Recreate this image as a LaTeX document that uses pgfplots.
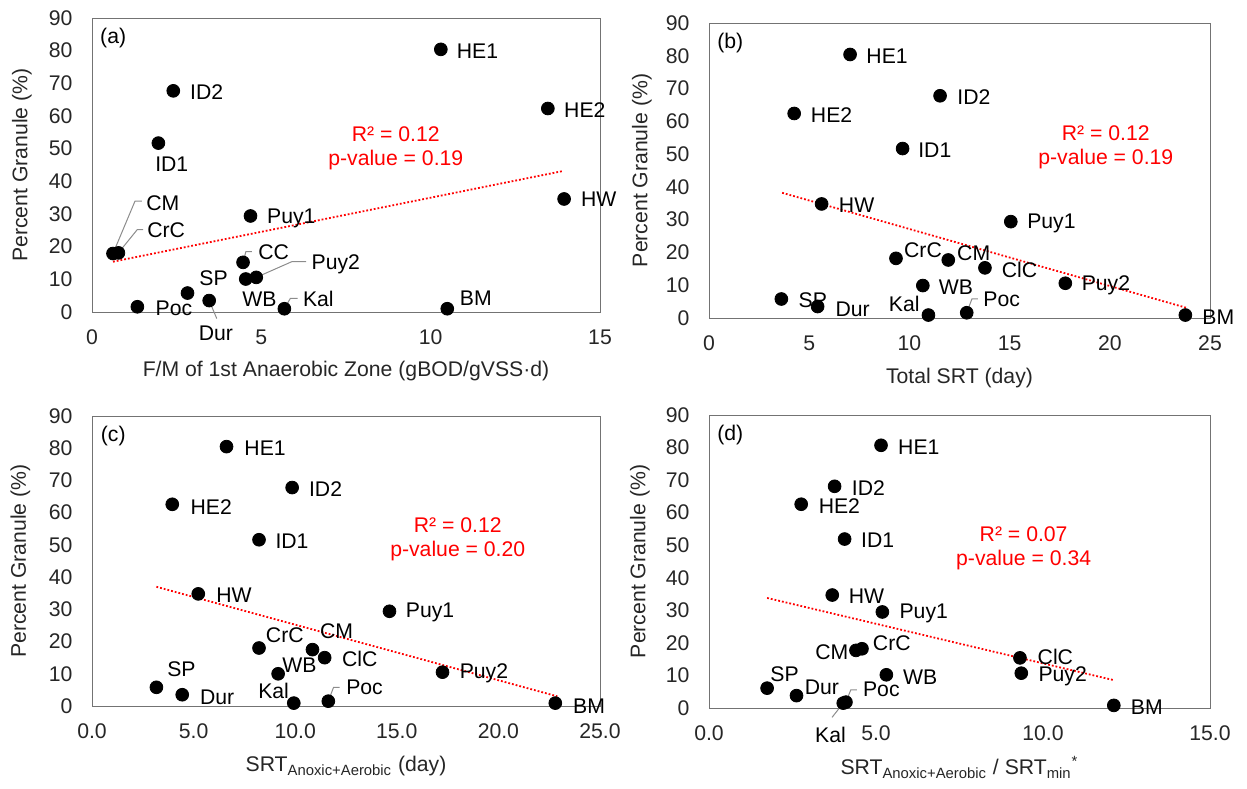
\documentclass[border=0pt]{standalone}
\usepackage{fontspec}
\setmainfont{Liberation Sans}
\usepackage{pgfplots}
\usepackage{pgfplotstable}
\pgfplotsset{compat=1.18}

\newcommand\fsz{\fontsize{10.6}{12.6}\selectfont}

% x y label dx dy (label offset in pt)
\pgfplotstableread{
x y lab dx dy
10.30 80.4 HE1 18.3 -1
2.40 67.7 ID2 16.7 -0.5
13.46 62.3 HE2 18.5 -0.7
1.96 51.7 ID1 6.7 -10.5
13.94 34.6 HW 17.3 -0.3
4.68 29.4 Puy1 20.4 -1.2
0.62 17.9 CM 24.9 25.3
0.78 18.1 CrC 23.9 11.3
4.46 15.2 CC 15.3 5.3
4.54 10.1 WB 6.8 -10
4.85 10.6 Puy2 39.8 6.6
2.82 5.8 SP 13 7.2
3.46 3.5 Dur 3.4 -16.4
1.34 1.6 Poc 18.3 -1
5.68 1.0 Kal 17 5
10.49 1.0 BM 14.3 5.4
}\tabA

\pgfplotstableread{
x y lab dx dy
7.04 80.4 HE1 18.5 -0.7
11.53 67.8 ID2 16.9 -0.7
4.25 62.4 HE2 18.7 -0.7
9.66 51.7 ID1 16.1 -0.8
5.62 34.8 HW 17.5 -0.7
15.06 29.4 Puy1 20.3 -0.7
9.33 18.2 CrC 13.5 4.3
11.94 17.7 CM 12.7 3.6
13.77 15.3 ClC 17.3 -0.8
17.78 10.6 Puy2 20.3 -1.2
10.67 9.9 WB 16.5 -0.8
3.61 5.8 SP 15.7 -0.8
5.42 3.5 Dur 17.5 -1.2
10.95 0.9 Kal -12.1 5.8
12.86 1.6 Poc 17.5 6.9
23.77 0.9 BM 16.5 -1.3
}\tabB

\pgfplotstableread{
x y lab dx dy
6.62 80.5 HE1 19.3 -0.7
9.85 67.8 ID2 16.7 -0.7
3.95 62.6 HE2 19.5 -1.3
8.22 51.6 ID1 16.5 -0.7
5.23 34.8 HW 17.9 -0.8
14.64 29.4 Puy1 20.3 -0.8
8.22 18.0 CrC 12.9 6.5
10.85 17.5 CM 12.1 9
11.45 15.0 ClC 17.5 -0.8
17.25 10.5 Puy2 20.7 -0.8
9.16 10.0 WB 10.7 4.1
3.17 5.8 SP 12.5 9
4.44 3.5 Dur 17.5 -1.1
9.93 0.9 Kal -10.1 5.9
11.63 1.5 Poc 18.1 6.9
22.80 0.9 BM 16.9 -1.5
}\tabC

\pgfplotstableread{
x y lab dx dy
5.15 80.7 HE1 18.9 -1
3.76 68.1 ID2 16.9 -0.8
2.76 62.6 HE2 19.1 -1
4.06 51.9 ID1 16.5 -0.8
3.69 34.7 HW 17.1 -0.7
5.19 29.5 Puy1 20.7 -0.8
4.40 17.7 CM -12.1 -0.8
4.58 18.2 CrC 14.9 2.8
9.31 15.4 ClC 17.7 0.3
9.35 10.7 Puy2 20.7 -1.6
5.31 10.2 WB 16.9 -1.3
1.74 6.1 SP 8.7 6.9
2.62 3.8 Dur 12.7 4.4
4.02 1.5 Kal -6.4 -15.9
4.10 1.8 Poc 17.7 6.6
12.12 0.8 BM 16.5 -0.8
}\tabD

\pgfplotsset{
  panel/.style={
    scale only axis, anchor=south west, clip=false,
    ymin=0, ymax=90, ytick={0,10,...,90},
    axis line style={black!55},
    major tick length=0pt,
    tick label style={font=\fsz, text=black!85},
    /pgf/number format/assume math mode=true,
    yticklabel style={xshift=-6.3pt},
    xticklabel style={yshift=-5.4pt},
    every axis y label/.style={rotate=90, anchor=center, font=\fsz, text=black!85},
    every axis x label/.style={anchor=center, font=\fsz, text=black!85},
    ylabel={Percent Granule (\%)},
  },
  pts/.style={
    only marks, mark=*, mark size=3.2pt, black,
    point meta=explicit symbolic,
    nodes near coords,
    visualization depends on={\thisrow{dx} \as \dx},
    visualization depends on={\thisrow{dy} \as \dy},
    nodes near coords style={anchor=center, xshift=\dx pt, yshift=\dy pt, font=\fsz, text=black},
  },
  trend/.style={red, densely dotted, line width=0.9pt},
}
\tikzset{
  rsq/.style={red, font=\fontsize{10.6}{12}\selectfont, align=center},
  lead/.style={black!45, line width=0.5pt},
}

\begin{document}
\begin{tikzpicture}
\useasboundingbox (0,0) rectangle (623.5pt,394pt);

% (a)
\begin{axis}[panel, at={(46pt,238pt)}, width=254pt, height=147pt,
  xmin=0, xmax=15, xtick={0,5,10,15},
  xlabel={F/M of 1st Anaerobic Zone (gBOD/gVSS·d)},
  ylabel style={at={(axis description cs:-0.138,0.5)}},
  xlabel style={at={(axis description cs:0.5,-0.201)}}]
\addplot[trend] coordinates {(0.62,15.4) (13.88,43.1)};
\addplot[pts] table[x=x, y=y, meta=lab] {\tabA};
\node[rsq] at (axis cs:8.97,50.2) {R² = 0.12\\p-value = 0.19};
\node[font=\fsz, xshift=10.6pt, yshift=-10.2pt] at (rel axis cs:0,1) {(a)};
\draw[lead] (axis cs:0.62,17.9) -- ++(11pt,26.2pt) -- ++(3.5pt,0pt);
\draw[lead] (axis cs:0.78,18.1) -- ++(9.4pt,11.6pt) -- ++(3pt,0pt);
\draw[lead] (axis cs:4.46,15.2) -- ++(1.4pt,5.3pt) -- ++(3pt,0pt);
\draw[lead] (axis cs:4.85,10.6) -- ++(17.9pt,7.9pt) -- ++(7pt,0pt);
\draw[lead] (axis cs:3.46,3.5) -- ++(3.8pt,-9pt);
\draw[lead] (axis cs:5.68,1.0) -- ++(3pt,5.2pt) -- ++(3.6pt,0pt);
\end{axis}

% (b)
\begin{axis}[panel, at={(354.5pt,235pt)}, width=250.5pt, height=147.5pt,
  xmin=0, xmax=25, xtick={0,5,...,25},
  xlabel={Total SRT (day)},
  ylabel style={at={(axis description cs:-0.134,0.5)}},
  xlabel style={at={(axis description cs:0.5,-0.205)}}]
\addplot[trend] coordinates {(3.65,38.2) (23.83,3.1)};
\addplot[pts] table[x=x, y=y, meta=lab] {\tabB};
\node[rsq] at (axis cs:19.8,52.1) {R² = 0.12\\p-value = 0.19};
\node[font=\fsz, xshift=10.6pt, yshift=-10.2pt] at (rel axis cs:0,1) {(b)};
\draw[lead] (axis cs:12.86,1.6) -- ++(2.6pt,6.9pt) -- ++(3pt,0pt);
\end{axis}

% (c)
\begin{axis}[panel, at={(46pt,41pt)}, width=254pt, height=145pt,
  xmin=0, xmax=25, xtick={0,5,...,25},
  xticklabel style={/pgf/number format/.cd, fixed, fixed zerofill, precision=1},
  xlabel={SRT\textsubscript{Anoxic+Aerobic} (day)},
  ylabel style={at={(axis description cs:-0.141,0.5)}},
  xlabel style={at={(axis description cs:0.5,-0.208)}}]
\addplot[trend] coordinates {(3.17,37) (22.9,3)};
\addplot[pts] table[x=x, y=y, meta=lab] {\tabC};
\node[rsq] at (axis cs:18.0,51.6) {R² = 0.12\\p-value = 0.20};
\node[font=\fsz, xshift=10.6pt, yshift=-10.2pt] at (rel axis cs:0,1) {(c)};
\draw[lead] (axis cs:11.63,1.5) -- ++(2.6pt,6.9pt) -- ++(3pt,0pt);
\end{axis}

% (d)
\begin{axis}[panel, at={(354.5pt,40pt)}, width=250.5pt, height=146.5pt,
  xmin=0, xmax=15, xtick={0,5,10,15},
  xticklabel style={/pgf/number format/.cd, fixed, fixed zerofill, precision=1},
  xlabel={SRT\textsubscript{Anoxic+Aerobic} / SRT\textsubscript{min}\textsuperscript{*}},
  ylabel style={at={(axis description cs:-0.138,0.5)}},
  xlabel style={at={(axis description cs:0.5,-0.203)}}]
\addplot[trend] coordinates {(1.74,33.8) (12.1,8.6)};
\addplot[pts] table[x=x, y=y, meta=lab] {\tabD};
\node[rsq] at (axis cs:9.42,49.1) {R² = 0.07\\p-value = 0.34};
\node[font=\fsz, xshift=10.6pt, yshift=-10.2pt] at (rel axis cs:0,1) {(d)};
\draw[lead] (axis cs:4.02,1.5) -- ++(-5.6pt,-7.1pt);
\draw[lead] (axis cs:4.10,1.8) -- ++(2.4pt,6.1pt) -- ++(3.1pt,0pt);
\end{axis}
\end{tikzpicture}
\end{document}
